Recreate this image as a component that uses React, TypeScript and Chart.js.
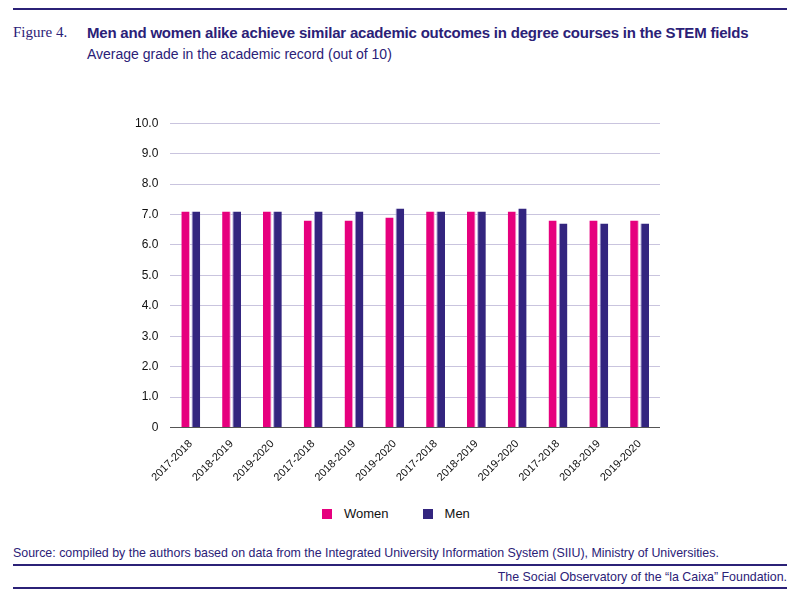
import React, { useEffect, useRef } from "react";
import { Chart, registerables } from "chart.js";
Chart.register(...registerables);

const categories = ["2017-2018","2018-2019","2019-2020","2017-2018","2018-2019","2019-2020","2017-2018","2018-2019","2019-2020","2017-2018","2018-2019","2019-2020"];
const women = [7.1,7.1,7.1,6.8,6.8,6.9,7.1,7.1,7.1,6.8,6.8,6.8];
const men = [7.1,7.1,7.1,7.1,7.1,7.2,7.1,7.1,7.2,6.7,6.7,6.7];
const yTicks = [0,1,2,3,4,5,6,7,8,9,10];

const NAVY = "#2b2177";
const PINK = "#e6007e";
const INDIGO = "#33257f";
const FONT = "'Liberation Sans', Arial, sans-serif";

export default function App() {
  const ref = useRef<HTMLCanvasElement>(null);
  useEffect(() => {
    const chart = new Chart(ref.current!, {
      type: "bar",
      data: {
        labels: categories,
        datasets: [
          { label: "Women", data: women, backgroundColor: PINK, borderColor: "#f7a8d2", borderWidth: { right: 1 } as any, barPercentage: 0.85, categoryPercentage: 0.5 },
          { label: "Men", data: men, backgroundColor: INDIGO, borderColor: "#a99fd6", borderWidth: { left: 1 } as any, barPercentage: 0.85, categoryPercentage: 0.5 },
        ],
      },
      options: {
        animation: false,
        responsive: false,
        layout: { padding: 0 },
        plugins: { legend: { display: false }, tooltip: { enabled: false } },
        scales: {
          x: {
            grid: { display: false },
            border: { color: "#555", width: 1 },
            ticks: { color: "#111", font: { family: FONT, size: 11 }, maxRotation: 45, minRotation: 45, padding: 2 },
          },
          y: {
            min: 0, max: 10,
            afterBuildTicks: (s: any) => { s.ticks = yTicks.map((v) => ({ value: v })); },
            grid: { color: "#c9c4de", drawTicks: false },
            border: { display: false },
            ticks: { color: "#111", font: { family: FONT, size: 12 }, padding: 12, callback: (v: any) => (v === 0 ? "0" : Number(v).toFixed(1)) },
          },
        },
      },
    });
    return () => chart.destroy();
  }, []);

  const line = (top: number) => <div style={{ position: "absolute", left: 13, width: 774, top, height: 2, background: NAVY }} />;
  return (
    <div style={{ position: "fixed", left: 0, top: 0, width: 800, height: 591, background: "#fff", fontFamily: FONT, color: NAVY }}>
      {line(8)}
      <div style={{ position: "absolute", left: 13, top: 24, fontFamily: "'Liberation Serif', serif", fontSize: 15 }}>Figure 4.</div>
      <div style={{ position: "absolute", left: 87, top: 24, fontSize: 15, fontWeight: "bold", letterSpacing: -0.2 }}>Men and women alike achieve similar academic outcomes in degree courses in the STEM fields</div>
      <div style={{ position: "absolute", left: 87, top: 46, fontSize: 14 }}>Average grade in the academic record (out of 10)</div>
      <canvas ref={ref} width={537} height={382} style={{ position: "absolute", left: 123, top: 104, width: 537, height: 382 }} />
      <div style={{ position: "absolute", top: 506, left: 322, display: "flex", alignItems: "center", fontSize: 13, color: "#111" }}>
        <span style={{ width: 10, height: 10, background: PINK, display: "inline-block", marginRight: 12 }} />Women
        <span style={{ width: 10, height: 10, background: INDIGO, display: "inline-block", marginLeft: 34, marginRight: 12 }} />Men
      </div>
      <div style={{ position: "absolute", left: 13, top: 546, fontSize: 12.4 }}>Source: compiled by the authors based on data from the Integrated University Information System (SIIU), Ministry of Universities.</div>
      {line(564)}
      <div style={{ position: "absolute", right: 13, top: 570, fontSize: 12.4 }}>The Social Observatory of the “la Caixa” Foundation.</div>
      {line(587)}
    </div>
  );
}
